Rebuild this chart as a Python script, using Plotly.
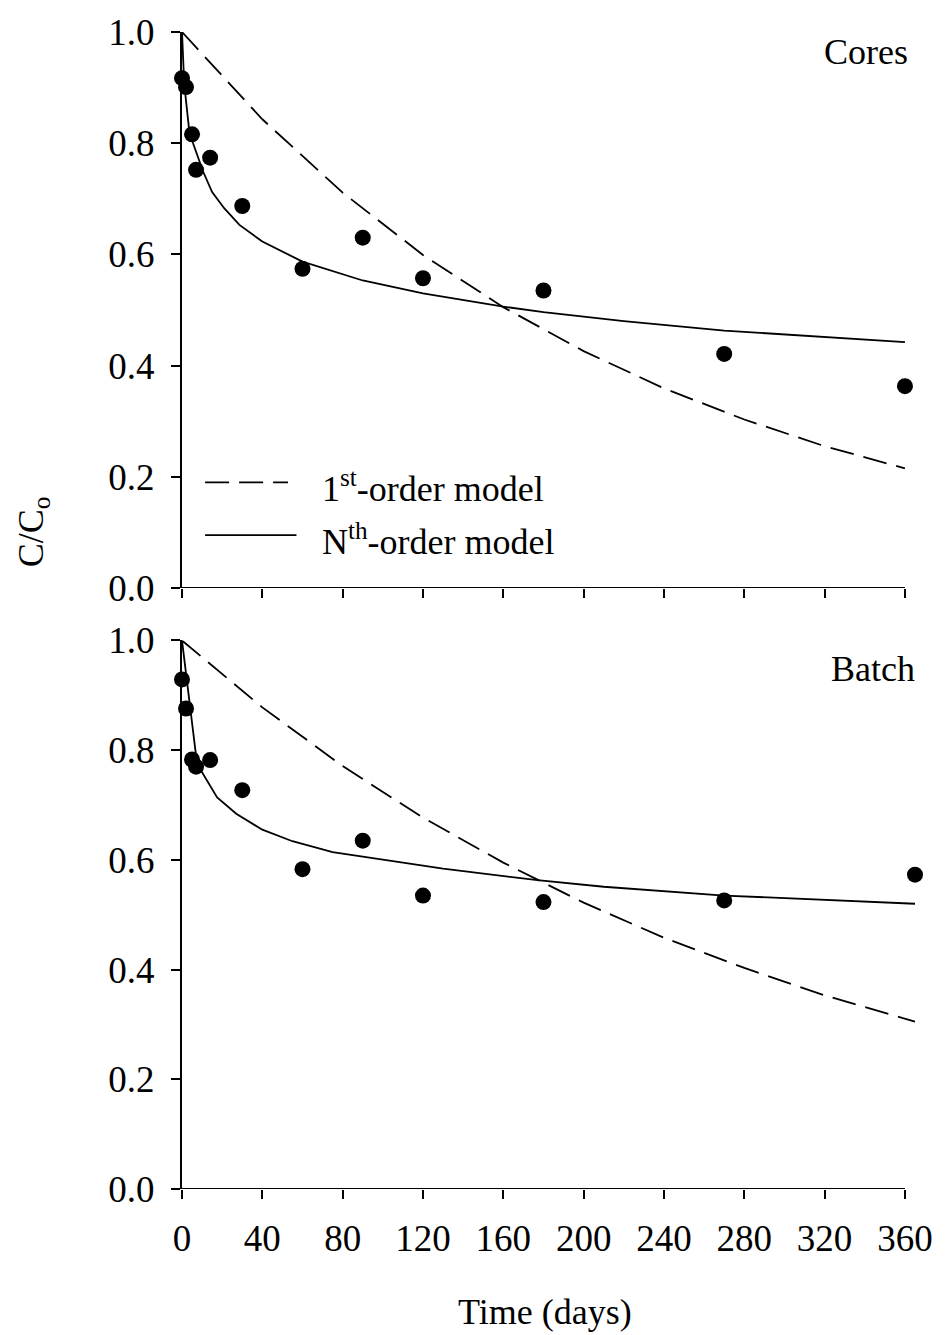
import plotly.graph_objects as go

# ---- data ----
cores_t = [0, 2, 5, 7, 14, 30, 60, 90, 120, 180, 270, 360]
cores_y = [0.917, 0.901, 0.816, 0.752, 0.774, 0.687, 0.574, 0.630, 0.557, 0.535, 0.421, 0.363]

cores_first_t = [0, 40, 80, 120, 160, 200, 240, 280, 320, 360]
cores_first_y = [1.0, 0.843, 0.711, 0.599, 0.505, 0.426, 0.359, 0.303, 0.255, 0.215]

cores_nth_t = [0, 0.5, 1, 1.3, 2.2, 3.5, 5.5, 10.5, 15, 21, 28.6, 40, 60, 90, 120, 160, 180, 220, 270, 320, 360]
cores_nth_y = [1.0, 0.946, 0.916, 0.90, 0.868, 0.826, 0.80, 0.749, 0.712, 0.683, 0.653, 0.623, 0.587, 0.553,
               0.530, 0.506, 0.496, 0.480, 0.463, 0.451, 0.442]

batch_t = [0, 2, 5, 7, 14, 30, 60, 90, 120, 180, 270, 365]
batch_y = [0.929, 0.876, 0.783, 0.770, 0.782, 0.727, 0.583, 0.635, 0.535, 0.523, 0.526, 0.573]

batch_first_t = [0, 40, 80, 120, 160, 200, 240, 280, 320, 365]
batch_first_y = [1.0, 0.878, 0.771, 0.677, 0.595, 0.522, 0.458, 0.403, 0.353, 0.305]

batch_nth_t = [0, 7.5, 17.5, 27, 40, 55, 75, 100, 130, 177, 210, 270, 365]
batch_nth_y = [1.0, 0.775, 0.714, 0.684, 0.655, 0.634, 0.614, 0.600, 0.584, 0.563, 0.551, 0.535, 0.520]

x_ticks = [0, 40, 80, 120, 160, 200, 240, 280, 320, 360]
y_ticks = [0.0, 0.2, 0.4, 0.6, 0.8, 1.0]
y_ticktext = ["0.0", "0.2", "0.4", "0.6", "0.8", "1.0"]

FONT = "Liberation Serif, Times New Roman, serif"
FS_TICK = 37
FS = 36
DASH = "24px,10px"

fig = go.Figure()

for xa, ya, t, y, ft, fy, nt, ny in [
    ("x", "y", cores_t, cores_y, cores_first_t, cores_first_y, cores_nth_t, cores_nth_y),
    ("x2", "y2", batch_t, batch_y, batch_first_t, batch_first_y, batch_nth_t, batch_nth_y),
]:
    fig.add_trace(go.Scatter(x=ft, y=fy, mode="lines", xaxis=xa, yaxis=ya,
                             line=dict(color="black", width=1.8, dash=DASH), showlegend=False))
    fig.add_trace(go.Scatter(x=nt, y=ny, mode="lines", xaxis=xa, yaxis=ya,
                             line=dict(color="black", width=1.8), showlegend=False))
    fig.add_trace(go.Scatter(x=t, y=y, mode="markers", xaxis=xa, yaxis=ya, cliponaxis=False,
                             marker=dict(color="black", size=16), showlegend=False))

common_x = dict(range=[0, 366], tickvals=x_ticks, ticks="outside", ticklen=9, tickwidth=2,
                tickcolor="black", showline=False, showgrid=False, zeroline=False,
                tickfont=dict(family=FONT, size=FS_TICK, color="black"), ticklabelstandoff=8)
common_y = dict(range=[0, 1], tickvals=y_ticks, ticktext=y_ticktext, ticks="outside", ticklen=9,
                tickwidth=2, tickcolor="black", showline=True, linewidth=2, linecolor="black",
                showgrid=False, zeroline=False,
                tickfont=dict(family=FONT, size=FS_TICK, color="black"), ticklabelstandoff=9)

fig.update_layout(
    width=948, height=1335,
    margin=dict(l=182, r=31, t=28, b=146),
    paper_bgcolor="white", plot_bgcolor="white",
    xaxis=dict(domain=[0, 1], anchor="y", showticklabels=False, **common_x),
    yaxis=dict(domain=[0.5195, 1.0], anchor="x", **common_y),
    xaxis2=dict(domain=[0, 1], anchor="y2", showticklabels=True, **common_x),
    yaxis2=dict(domain=[0, 0.4741], anchor="x2", **common_y),
    showlegend=False,
)

# x axis lines spanning 0..360
fig.add_shape(type="line", xref="x", yref="y", x0=0, x1=360, y0=0, y1=0,
              line=dict(color="black", width=2))
fig.add_shape(type="line", xref="x2", yref="y2", x0=0, x1=360, y0=0, y1=0,
              line=dict(color="black", width=2))

# legend samples (top panel)
fig.add_shape(type="line", xref="x", yref="y", x0=11.5, x1=52.8, y0=0.19, y1=0.19,
              line=dict(color="black", width=1.8, dash=DASH))
fig.add_shape(type="line", xref="x", yref="y", x0=11.5, x1=57, y0=0.095, y1=0.095,
              line=dict(color="black", width=1.8))

tf = dict(family=FONT, size=FS, color="black")
fig.add_annotation(xref="x", yref="y", x=68.5, y=0.183, xanchor="left", yanchor="middle",
                   text="1<sup>st</sup>-order model", showarrow=False, font=tf)
fig.add_annotation(xref="x", yref="y", x=68.5, y=0.088, xanchor="left", yanchor="middle",
                   text="N<sup>th</sup>-order model", showarrow=False, font=tf)

fig.add_annotation(xref="paper", yref="paper", x=0.99, y=0.983, xanchor="right", yanchor="middle",
                   text="Cores", showarrow=False, font=tf)
fig.add_annotation(xref="paper", yref="paper", x=1.0, y=0.4496, xanchor="right", yanchor="middle",
                   text="Batch", showarrow=False, font=tf)

fig.add_annotation(xref="paper", yref="paper", x=-0.2027, y=0.5676, xanchor="center", yanchor="middle",
                   text="C/C<sub>o</sub>", textangle=-90, showarrow=False, font=tf)
fig.add_annotation(xref="paper", yref="paper", x=0.494, y=-0.106, xanchor="center", yanchor="middle",
                   text="Time (days)", showarrow=False, font=tf)

fig.write_html("out.html")
